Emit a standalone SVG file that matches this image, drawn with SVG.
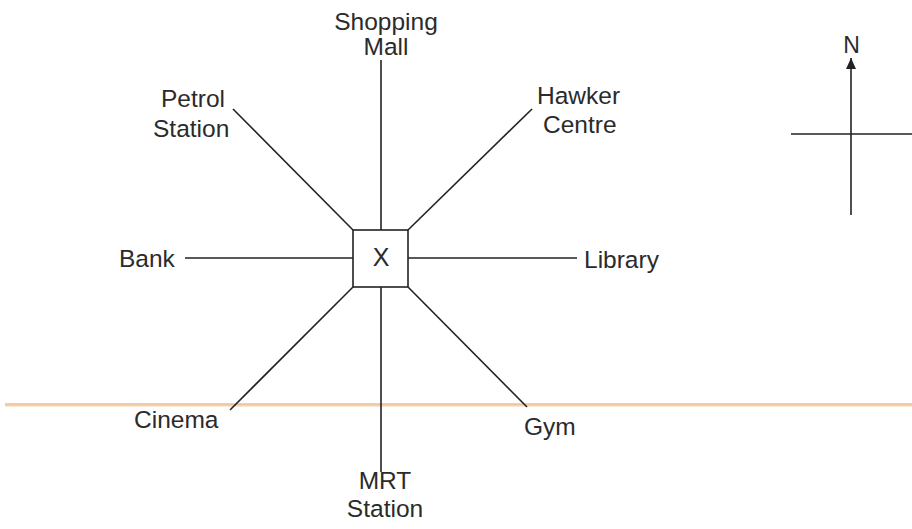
<svg xmlns="http://www.w3.org/2000/svg" width="912" height="529" viewBox="0 0 912 529">
  <style>
    .lbl { font-family: "Liberation Sans", Arial, sans-serif; font-size: 24.5px; fill: #2b2b2b; }
    .c { text-anchor: middle; }
    .ln { stroke: #222; stroke-width: 1.6; fill: none; }
    .big { font-size: 25px; }
    .n { font-size: 23px; }
  </style>
  <defs>
    <marker id="arr" markerWidth="12" markerHeight="10" refX="11" refY="5" orient="auto" markerUnits="userSpaceOnUse">
      <path d="M0,0 L11,5 L0,10 Z" fill="#222"/>
    </marker>
  </defs>
  <rect width="912" height="529" fill="#ffffff"/>
  <!-- orange scan band -->
  <line x1="5" y1="405" x2="912" y2="405" stroke="#f2d2b2" stroke-width="3"/>
  <line x1="5" y1="404" x2="912" y2="404" stroke="#e9b98e" stroke-width="1"/>

  <g id="connectors">
    <line class="ln" x1="381" y1="60" x2="381" y2="230"/>
    <line class="ln" x1="381" y1="287" x2="381" y2="472"/>
    <line class="ln" x1="233" y1="109" x2="353" y2="230"/>
    <line class="ln" x1="532" y1="109" x2="408" y2="230"/>
    <line class="ln" x1="185" y1="258" x2="353" y2="258"/>
    <line class="ln" x1="408" y1="258" x2="577" y2="258"/>
    <line class="ln" x1="230" y1="410" x2="353" y2="287"/>
    <line class="ln" x1="527" y1="407" x2="408" y2="287"/>
  </g>

  <g id="X">
    <rect x="353" y="230" width="55" height="57" fill="#fff" class="ln"/>
    <text class="lbl c big" x="381" y="266">X</text>
  </g>
  <g id="shopping-mall">
    <text class="lbl c" x="386" y="30">Shopping</text>
    <text class="lbl c" x="386" y="55">Mall</text>
  </g>
  <g id="petrol-station">
    <text class="lbl" x="161" y="107">Petrol</text>
    <text class="lbl" x="153" y="137">Station</text>
  </g>
  <g id="hawker-centre">
    <text class="lbl" x="537" y="104">Hawker</text>
    <text class="lbl" x="543" y="133">Centre</text>
  </g>
  <g id="bank">
    <text class="lbl" x="119" y="267">Bank</text>
  </g>
  <g id="library">
    <text class="lbl" x="584" y="268">Library</text>
  </g>
  <g id="cinema">
    <text class="lbl" x="134" y="428">Cinema</text>
  </g>
  <g id="gym">
    <text class="lbl" x="524" y="435">Gym</text>
  </g>
  <g id="mrt-station">
    <text class="lbl c" x="385" y="489">MRT</text>
    <text class="lbl c" x="385" y="517">Station</text>
  </g>
  <g id="compass">
    <line class="ln" x1="851" y1="215" x2="851" y2="58" marker-end="url(#arr)"/>
    <line class="ln" x1="791" y1="134" x2="912" y2="134"/>
    <text class="lbl c n" x="851.5" y="53">N</text>
  </g>
</svg>
